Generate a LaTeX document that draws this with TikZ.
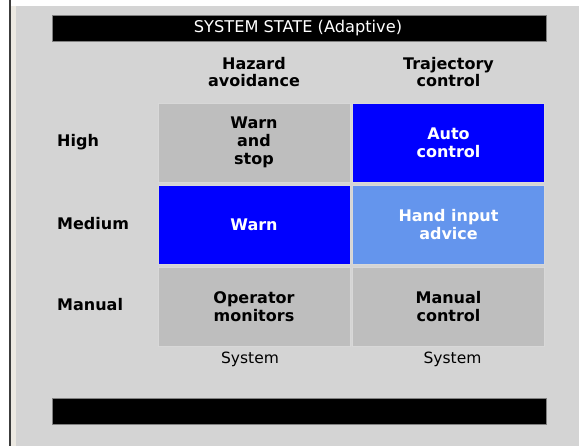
\documentclass[tikz,border=0pt]{standalone}
\usepackage{fontspec}
\setmainfont{DejaVu Sans}
\usetikzlibrary{positioning}

\definecolor{panel}{RGB}{212,212,212}
\definecolor{cellgray}{RGB}{190,190,190}
\definecolor{fullblue}{RGB}{0,0,255}
\definecolor{softblue}{RGB}{100,149,237}
\definecolor{celledge}{RGB}{216,216,216}
\definecolor{frameline}{RGB}{60,60,60}
\definecolor{framelight}{RGB}{236,233,226}

\begin{document}
\begin{tikzpicture}[x=1pt, y=-1pt,
    txt/.style={font=\fontsize{16}{17.5}\selectfont\bfseries, align=center, inner sep=0pt},
    cell/.style={txt, minimum width=192pt, minimum height=79pt,
      draw=celledge, line width=0.8pt, font=\fontsize{16}{18}\selectfont\bfseries},
    bar/.style={fill=black, draw=gray, line width=0.6pt}]
    \useasboundingbox (0,0) rectangle (579,446);

    % window background and left frame
    \fill[panel] (0,0) rectangle (579,446);
    \fill[white] (0,0) rectangle (579,6);
    \fill[white] (0,0) rectangle (9,446);
    \fill[frameline] (9,0) rectangle (10.5,446);
    \fill[framelight] (10.5,6) rectangle (16,446);

    % title bar
    \draw[bar] (52,15) rectangle (546,41);
    \node[inner sep=0pt, text=white, font=\fontsize{16.2}{17.5}\selectfont] (title) at (298,28.5) {SYSTEM STATE (Adaptive)};

    % column headers
    \node[txt] (hdrhazard) at (254,72) {Hazard\\avoidance};
    \node[txt] (hdrtraj) at (448.5,72) {Trajectory\\control};

    % row labels
    \node[txt, anchor=west] (lblhigh) at (57,142.5) {High};
    \node[txt, anchor=west] (lblmedium) at (57,224) {Medium};
    \node[txt, anchor=west] (lblmanual) at (57,305) {Manual};

    % state cells
    \node[cell, fill=cellgray] (warnstop) at (254,142.5) {Warn\\and\\stop};
    \node[cell, fill=fullblue, text=white] (autoctl) at (448.5,142.5) {Auto\\control};
    \node[cell, fill=fullblue, text=white] (warn) at (254,224.5) {Warn};
    \node[cell, fill=softblue, text=white] (handadvice) at (448.5,224.5) {Hand input\\advice};
    \node[cell, fill=cellgray] (opmonitor) at (254,306.5) {Operator\\monitors};
    \node[cell, fill=cellgray] (manualctl) at (448.5,306.5) {Manual\\control};

    % footer
    \node[inner sep=0pt, font=\fontsize{15.5}{17.5}\selectfont] (sysa) at (250,359) {System};
    \node[inner sep=0pt, font=\fontsize{15.5}{17.5}\selectfont] (sysb) at (452.5,359) {System};
    \draw[bar] (52,398) rectangle (546,424);
\end{tikzpicture}
\end{document}
